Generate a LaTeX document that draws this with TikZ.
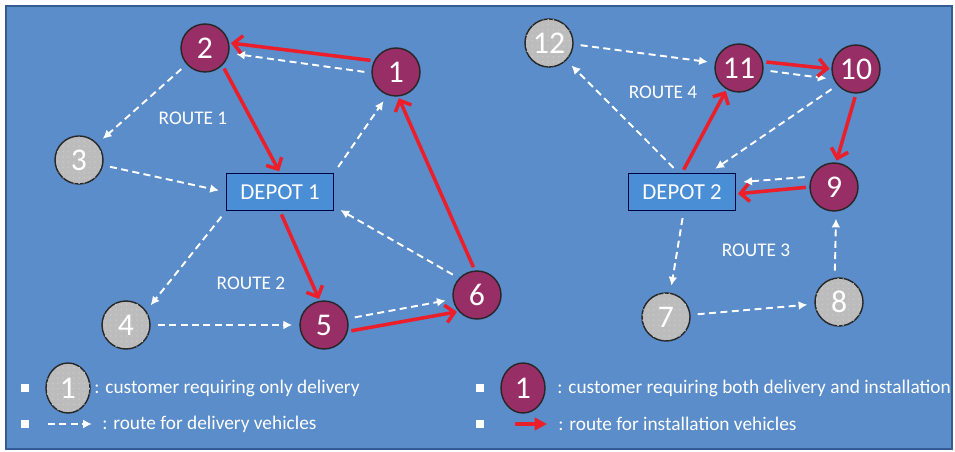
\documentclass[tikz,border=0pt]{standalone}
\usepackage{fontspec}
\setmainfont{Carlito}
\usetikzlibrary{arrows.meta, shapes.geometric, patterns}
\definecolor{bgblue}{RGB}{90,141,201}
\definecolor{frameblue}{RGB}{52,92,148}
\definecolor{depotblue}{RGB}{74,142,214}
\definecolor{custpurple}{RGB}{152,46,102}
\definecolor{custgray}{RGB}{188,188,188}
\definecolor{routered}{RGB}{236,30,42}
\tikzset{
x=0.02cm, y=-0.02cm, % one unit is one pixel of the original picture
delivery/.style={draw=white, line width=1.1pt, dash pattern=on 4pt off 2.5pt, -{Latex[length=5pt,width=5pt]}, shorten >=4pt, shorten <=4pt}, % dashed route of the delivery vehicles
install/.style={draw=routered, line width=2pt, -{Straight Barb[length=5pt,width=10pt]}, shorten <=2pt, shorten >=1pt}, % red route of the installation vehicles
depot/.style={draw=black!75!blue, fill=depotblue, thick, minimum width=2.14cm, minimum height=0.74cm, text=white, font=\fontsize{13}{15}\selectfont},
customer/.style={circle, draw=black!85, thick, minimum size=0.96cm, inner sep=0pt, text=white, font=\fontsize{18}{20}\selectfont},
only/.style={customer, fill=custgray, postaction={pattern=dots, pattern color=white!20!custgray}}, % customer with delivery only
both/.style={customer, fill=custpurple}, % customer with delivery and installation
routelabel/.style={text=white, font=\fontsize{11}{13}\selectfont},
legendtext/.style={text=white, anchor=west, inner sep=0pt, font=\fontsize{11}{13}\selectfont},
bullet/.style={fill=white, minimum size=0.16cm, inner sep=0pt},
}

\begin{document}
\begin{tikzpicture}

\useasboundingbox (0,0) rectangle (955,452);
\fill[white] (0,0) rectangle (955,452);
\draw[frameblue, line width=1.5pt, fill=bgblue] (6,6) rectangle (952,449);

% customers and depots
\node[both] at (396,72) (n1) {1};
\node[both] at (205,48) (n2) {2};
\node[only] at (79,160) (n3) {3};
\node[only] at (126,325) (n4) {4};
\node[both] at (324,325) (n5) {5};
\node[both] at (477,295) (n6) {6};
\node[only] at (666,317) (n7) {7};
\node[only] at (839,302) (n8) {8};
\node[both] at (834,187) (n9) {9};
\node[both] at (856,69) (n10) {10};
\node[both] at (739,68) (n11) {11};
\node[only] at (549,43) (n12) {12};
\node[depot] at (280,192) (d1) {DEPOT 1};
\node[depot] at (682,192) (d2) {DEPOT 2};

\node[routelabel] at (193,118) (r1) {ROUTE 1};
\node[routelabel] at (251,283) (r2) {ROUTE 2};
\node[routelabel] at (756,250) (r3) {ROUTE 3};
\node[routelabel] at (663,92) (r4) {ROUTE 4};

% delivery routes
\draw (d1.north east) edge[delivery] (n1.250);
\draw (n1.182) edge[delivery] (n2.-12);
\draw (n2) edge[delivery] (n3);
\draw (n3) edge[delivery] (d1.west);
\draw (d1.south west) edge[delivery] (n4.35);
\draw (n4) edge[delivery] (n5);
\draw (n5.15) edge[delivery] (n6.190);
\draw (n6.137) edge[delivery] (d1.-15);
\draw (d2.100) edge[delivery] (n12.-45);
\draw (n12.-3) edge[delivery] (n11.168);
\draw (n11.-5) edge[delivery] (n10.205);
\draw (n10.221) edge[delivery] (d2.35);
\draw (d2.-85) edge[delivery] (n7.80);
\draw (n7) edge[delivery] (n8);
\draw (n8.100) edge[delivery] (n9.-85);
\draw (n9.155) edge[delivery] (d2.10);

% installation routes
\draw (d1.south) edge[install] (n5.100);
\draw (n5.-15) edge[install] (n6.222);
\draw (n6.95) edge[install] (n1.-85);
\draw (n1.153) edge[install] (n2.12);
\draw (n2.-45) edge[install] (d1.north);
\draw (d2.north) edge[install] (n11.-120);
\draw (n11.15) edge[install] (n10.180);
\draw (n10.-90) edge[install] (n9.85);
\draw (n9.180) edge[install] (d2.-2);

% legend
\node[bullet] at (25,388) (b1) {};
\node[only, ellipse, minimum width=0.88cm, minimum height=1cm] at (68,388) (k1) {1};
\node[legendtext] at (94,388) (t1) {: customer requiring only delivery};
\node[bullet] at (25,424) (b2) {};
\coordinate (a1) at (48,424);
\coordinate (a2) at (92,424);
\draw (a1) edge[delivery, shorten <=0pt, shorten >=0pt, -{Latex[length=5pt,width=5pt]}] (a2);
\node[legendtext] at (102,424) (t2) {: route for delivery vehicles};
\node[bullet] at (480,388) (b3) {};
\node[both, ellipse, minimum width=0.88cm, minimum height=1cm] at (523,388) (k2) {1};
\node[legendtext] at (557,388) (t3) {: customer requiring both delivery and installation};
\node[bullet] at (480,424) (b4) {};
\coordinate (a3) at (515,424);
\coordinate (a4) at (547,424);
\draw (a3) edge[install, shorten <=0pt, shorten >=0pt, -{Triangle[length=7pt,width=7pt]}] (a4);
\node[legendtext] at (558,424) (t4) {: route for installation vehicles};

\end{tikzpicture}
\end{document}
